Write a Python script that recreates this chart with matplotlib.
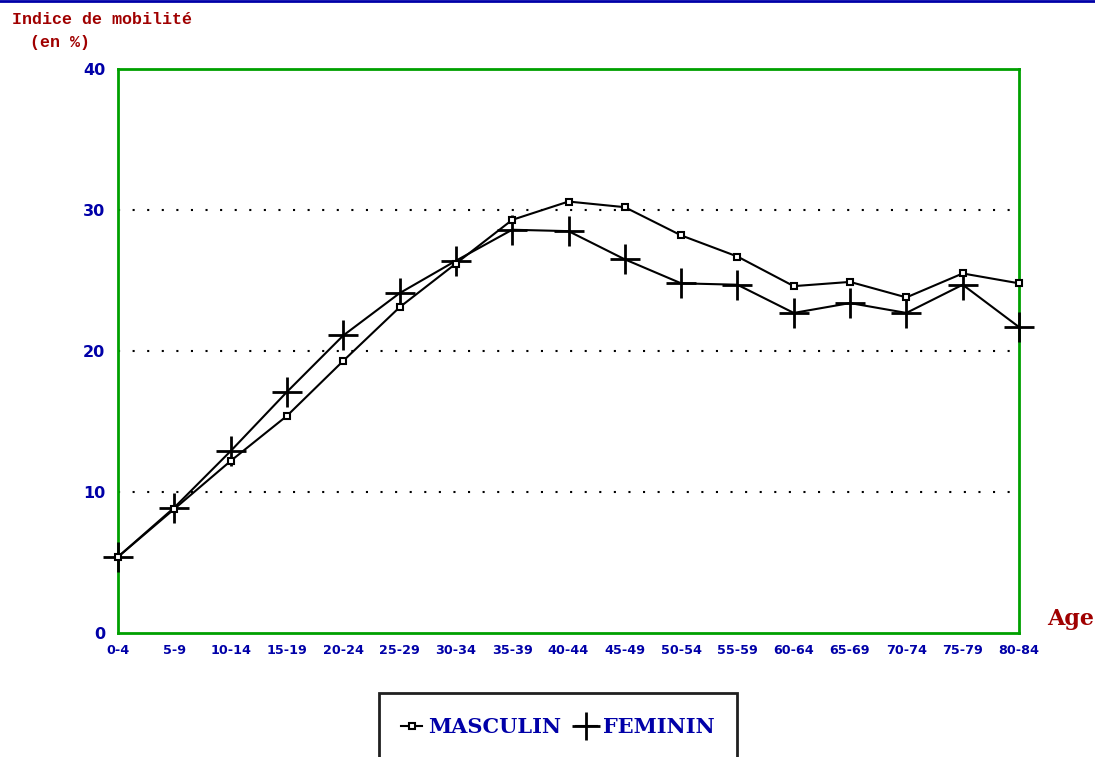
import matplotlib.pyplot as plt
from matplotlib.patches import Rectangle
from matplotlib.lines import Line2D

# tranches d'age et indices de mobilite (en %)
ages = ['0-4', '5-9', '10-14', '15-19', '20-24', '25-29', '30-34', '35-39',
        '40-44', '45-49', '50-54', '55-59', '60-64', '65-69', '70-74',
        '75-79', '80-84']
masculin = [5.4, 8.8, 12.2, 15.4, 19.3, 23.1, 26.2, 29.3, 30.6, 30.2,
            28.2, 26.7, 24.6, 24.9, 23.8, 25.5, 24.8]
feminin = [5.4, 8.9, 12.9, 17.1, 21.1, 24.1, 26.4, 28.6, 28.5, 26.5,
           24.8, 24.7, 22.7, 23.4, 22.7, 24.7, 21.7]
yticks = [0, 10, 20, 30, 40]

BLEU = '#0000A8'
ROUGE = '#A00000'
VERT = '#00A000'

fig = plt.figure(figsize=(10.95, 7.57), dpi=100, facecolor='white')
ax = fig.add_axes([118 / 1095, 1 - 633 / 757, (1019 - 118) / 1095, (633 - 69) / 757])

x = list(range(len(ages)))
ax.plot(x, masculin, color='black', lw=1.5, marker='s', markersize=5,
        markerfacecolor='white', markeredgecolor='black', markeredgewidth=1.5,
        clip_on=False, zorder=4, label='MASCULIN')
ax.plot(x, feminin, color='black', lw=1.5, marker='+', markersize=21,
        markeredgewidth=2, clip_on=False, zorder=3, label='FEMININ')

for v in yticks[1:-1]:
    ax.axhline(v, color='black', lw=1.5, ls=(0, (1, 6)), zorder=1)

ax.set_xlim(0, len(ages) - 1)
ax.set_ylim(0, 40)
ax.set_xticks(x)
ax.set_xticklabels(ages)
ax.set_yticks(yticks)
ax.tick_params(length=0)
ax.tick_params(axis='x', pad=8, labelsize=9.2, labelcolor=BLEU)
ax.tick_params(axis='y', pad=9, labelsize=11.5, labelcolor=BLEU)
for lab in ax.get_xticklabels() + ax.get_yticklabels():
    lab.set_fontweight('heavy')
    lab.set_family('DejaVu Sans')
for s in ax.spines.values():
    s.set_color(VERT)
    s.set_linewidth(2)

# titres
fig.text(12 / 1095, 1 - 20 / 757, 'Indice de mobilité', color=ROUGE,
         fontsize=12, fontweight='bold', family='Liberation Mono', va='center')
fig.text(30 / 1095, 1 - 43 / 757, '(en %)', color=ROUGE,
         fontsize=12, fontweight='bold', family='Liberation Mono', va='center')
fig.text(1047 / 1095, 1 - 619 / 757, 'Age', color=ROUGE, fontsize=16,
         fontweight='bold', family='DejaVu Serif', va='center')

# trait bleu en haut
fig.add_artist(Line2D([0, 1], [0.999, 0.999], color=BLEU, lw=2,
                      transform=fig.transFigure))

# cadre de la legende
fig.add_artist(Rectangle((379 / 1095, -0.01), (737 - 379) / 1095,
                         (757 - 693) / 757 + 0.01, transform=fig.transFigure,
                         fill=False, edgecolor='#202020', lw=2))
leg = fig.legend(loc='center', bbox_to_anchor=(558 / 1095, 1 - 727 / 757),
                 ncol=2, frameon=False, handlelength=1.0, handletextpad=0.3,
                 columnspacing=0.7,
                 prop={'family': 'DejaVu Serif', 'weight': 'bold', 'size': 15})
for t in leg.get_texts():
    t.set_color(BLEU)
for h in leg.legend_handles:
    if h.get_marker() == 's':
        h.set_markersize(4)
    else:
        h.set_markersize(20)

fig.savefig('out.png', dpi=100, facecolor='white')
